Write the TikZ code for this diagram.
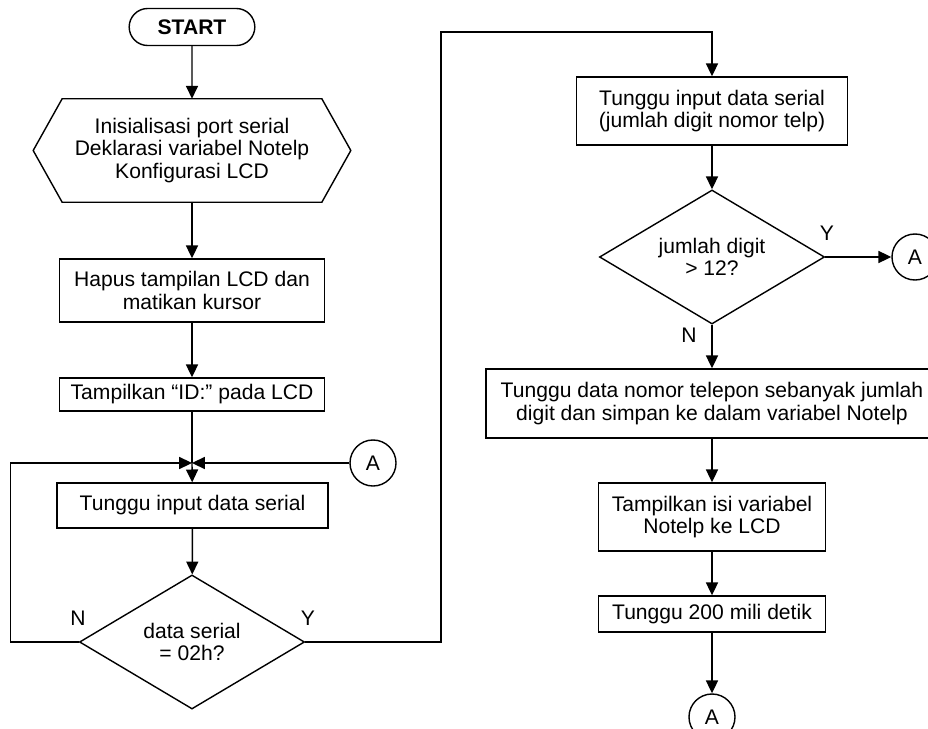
\documentclass[tikz,border=0pt]{standalone}
\usepackage{fontspec}
\setmainfont{Liberation Sans}
\usetikzlibrary{shapes.geometric,shapes.misc,arrows.meta,positioning}

\begin{document}
\begin{tikzpicture}[
  x=0.025cm, y=-0.025cm,
  every node/.style={font=\fontsize{15}{16}\selectfont},
  proc/.style={rectangle, draw, line width=1pt, minimum width=#1, align=center, inner sep=2pt},
  term/.style={rounded rectangle, draw, line width=1pt, minimum width=3.375cm, minimum height=0.925cm, font=\fontsize{15}{16}\selectfont\bfseries},
  decide/.style={diamond, draw, line width=1pt, minimum width=5.625cm, minimum height=3.35cm, aspect=1.68, inner sep=0pt, align=center},
  conn/.style={circle, draw, line width=1pt, minimum size=1.15cm, inner sep=0pt},
  line/.style={line width=1pt},
  arr/.style={line width=1pt, -{Triangle[length=0.32cm, width=0.3cm]}}
]
  \useasboundingbox (0,0) rectangle (928,729);

  % left column
  \node[term] (start) at (192,27) {START};
  \node[minimum width=7.925cm, minimum height=2.575cm, align=center] (init) at (192,150.5)
    {Inisialisasi port serial\\Deklarasi variabel Notelp\\Konfigurasi LCD};
  \draw[line] (init.west) -- ([xshift=0.725cm]init.north west) -- ([xshift=-0.725cm]init.north east)
    -- (init.east) -- ([xshift=-0.725cm]init.south east) -- ([xshift=0.725cm]init.south west) -- cycle;
  \node[proc=6.625cm, minimum height=1.575cm] (clear) at (192,290.5) {Hapus tampilan LCD dan\\matikan kursor};
  \node[proc=6.625cm, minimum height=0.825cm] (showid) at (192,394.5) {Tampilkan “ID:” pada LCD};
  \coordinate (join) at (192,463);
  \node[conn] (conA1) at (373,463) {A};
  \node[proc=6.775cm, minimum height=1.125cm] (wait) at (192.5,505.5) {Tunggu input data serial};
  \node[decide] (check) at (192,642) {data serial\\= 02h?};
  \node (checkN) at (78,618) {N};
  \node (checkY) at (308,618) {Y};
  \coordinate (top) at (441,32);

  % right column
  \node[proc=6.775cm, minimum height=1.7cm] (ask) at (712,111) {Tunggu input data serial\\(jumlah digit nomor telp)};
  \node[decide] (digit) at (712,257) {jumlah digit\\> 12?};
  \node (digitY) at (827,233) {Y};
  \node (digitN) at (689,335) {N};
  \node[conn] (conA2) at (915,257) {A};
  \node[proc=11.3cm, minimum height=1.725cm] (store) at (712,403.5) {Tunggu data nomor telepon sebanyak jumlah\\digit dan simpan ke dalam variabel Notelp};
  \node[proc=5.675cm, minimum height=1.7cm] (show) at (712,517) {Tampilkan isi variabel\\Notelp ke LCD};
  \node[proc=5.675cm, minimum height=0.9cm] (delay) at (712,614) {Tunggu 200 mili detik};
  \node[conn] (conA3) at (712,717) {A};

  % connectors
  \draw[arr] (start) -- (init);
  \draw[arr] (init) -- (clear);
  \draw[arr] (clear) -- (showid);
  \draw[line] (showid) -- (join);
  \draw[arr] (join) -- (wait);
  \draw[arr] (wait) -- (check);
  \draw[arr] (check.west) -- ++(-68,0) |- (join);
  \draw[arr] (conA1) -- (join);
  \draw[arr] (check.east) -| (top) -| (ask.north);
  \draw[arr] (ask) -- (digit);
  \draw[arr] (digit) -- (conA2);
  \draw[arr] (digit) -- (store);
  \draw[arr] (store) -- (show);
  \draw[arr] (show) -- (delay);
  \draw[arr] (delay) -- (conA3);
\end{tikzpicture}
\end{document}
